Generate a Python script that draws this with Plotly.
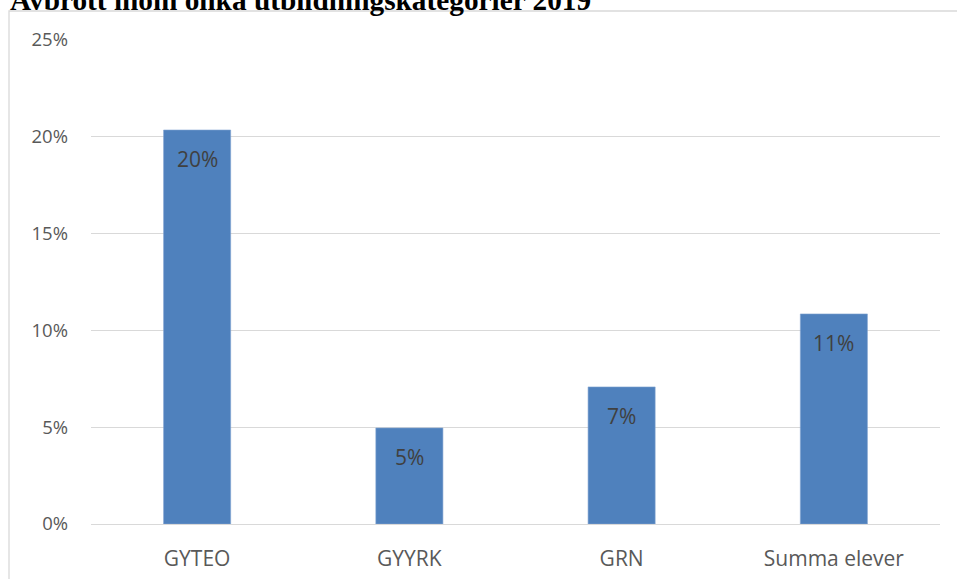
import plotly.graph_objects as go

categories = ["GYTEO", "GYYRK", "GRN", "Summa elever"]
values = [0.2035, 0.0496, 0.0708, 0.1085]
labels = ["20%", "5%", "7%", "11%"]
y_ticks = [0, 0.05, 0.10, 0.15, 0.20, 0.25]
y_ticktext = ["0%", "5%", "10%", "15%", "20%", "25%"]
title_text = "Avbrott inom olika utbildningskategorier 2019"

W, H = 957, 579
L, R, T, B = 91, 17, 40, 55
pw, ph = W - L - R, H - T - B

def px_x(x):
    return (x - L) / pw

def px_y(y):
    return 1 + (T - y) / ph

fig = go.Figure()
fig.add_trace(go.Bar(
    x=categories, y=values,
    marker=dict(color="#4F81BD", line=dict(color="#7FA3D0", width=0.6)),
    width=0.316,
    hoverinfo="skip",
))

for c, v, t in zip(categories, values, labels):
    fig.add_annotation(
        x=c, y=v, xref="x", yref="y", text=t, showarrow=False,
        yanchor="top", yshift=-13,
        font=dict(family="Open Sans", size=21, color="#404040"),
    )

fig.add_annotation(
    x=px_x(8), y=px_y(18), xref="paper", yref="paper",
    xanchor="left", yanchor="bottom", showarrow=False,
    text="<b>" + title_text + "</b>",
    font=dict(family="Liberation Serif", size=29.3, color="#000000"),
)

fig.add_shape(
    type="rect", xref="paper", yref="paper",
    x0=px_x(9), x1=px_x(W + 20), y0=px_y(H + 20), y1=px_y(11),
    line=dict(color="#D9D9D9", width=1.3), fillcolor="rgba(0,0,0,0)",
    layer="below",
)

fig.update_layout(
    width=W, height=H,
    margin=dict(l=L, r=R, t=T, b=B, pad=0, autoexpand=False),
    plot_bgcolor="white", paper_bgcolor="white",
    showlegend=False,
    xaxis=dict(
        showgrid=False, showline=False, zeroline=False, ticks="",
        automargin=False,
        tickfont=dict(family="Open Sans", size=21, color="#595959"),
        ticklabelstandoff=20,
    ),
    yaxis=dict(
        range=[0, 0.25], tickvals=y_ticks, ticktext=y_ticktext,
        automargin=False,
        showgrid=True, gridcolor="#D9D9D9", gridwidth=1.3,
        zeroline=True, zerolinecolor="#D9D9D9", zerolinewidth=1.3,
        showline=False, ticks="",
        tickfont=dict(family="Open Sans", size=18.5, color="#595959"),
        ticklabelstandoff=22,
    ),
)

fig.write_html(
    "out.html",
    config={"displayModeBar": False},
    post_script="document.body.style.margin='0';document.body.style.overflow='hidden';",
)
